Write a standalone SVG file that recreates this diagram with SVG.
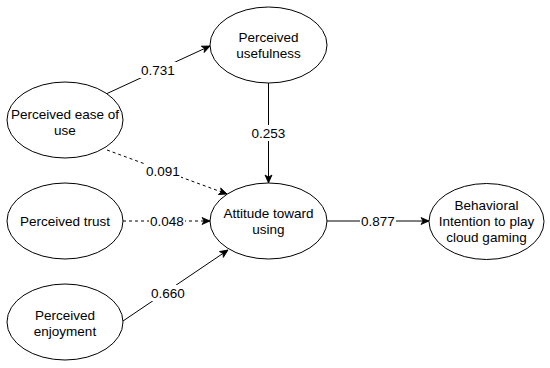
<svg xmlns="http://www.w3.org/2000/svg" width="550" height="368" viewBox="0 0 550 368">
<defs>
<style>
.node ellipse{fill:#fff;stroke:#000;stroke-width:1}
.node text,.lbl{font-family:"Liberation Sans",Arial,Helvetica,sans-serif;font-size:13.5px;fill:#000;text-anchor:middle;dominant-baseline:central}
.edge{stroke:#000;stroke-width:1;fill:none;marker-end:url(#arr)}
.dash{stroke-dasharray:3,3}
.bg{fill:#fff}
</style>
<marker id="arr" markerUnits="userSpaceOnUse" markerWidth="10" markerHeight="10" viewBox="0 0 10 10" refX="9" refY="5" orient="auto">
<path d="M1,1.5 L9,5 L1,8.5 L3,5 z" fill="#000" stroke="#000" stroke-width="0.8"/>
</marker>
</defs>
<rect width="550" height="368" fill="#fff"/>
<g id="connectors">
<line class="edge" x1="106" y1="94" x2="210" y2="46"/>
<line class="edge" x1="268.5" y1="83" x2="268.5" y2="183"/>
<line class="edge dash" x1="107" y1="150" x2="227" y2="194"/>
<line class="edge dash" x1="123" y1="221" x2="210" y2="221"/>
<line class="edge" x1="123" y1="321" x2="228" y2="250"/>
<line class="edge" x1="327" y1="221" x2="429" y2="221"/>
<rect class="bg" x="140" y="62" width="36" height="16"/>
<text class="lbl" x="158" y="70">0.731</text>
<rect class="bg" x="250" y="125" width="37" height="16"/>
<text class="lbl" x="268.5" y="133">0.253</text>
<rect class="bg" x="145" y="163" width="36" height="16"/>
<text class="lbl" x="163" y="171.5">0.091</text>
<rect class="bg" x="149" y="213" width="36" height="16"/>
<text class="lbl" x="167" y="221">0.048</text>
<rect class="bg" x="150" y="285" width="36" height="16"/>
<text class="lbl" x="168" y="293">0.660</text>
<rect class="bg" x="360" y="213" width="36" height="16"/>
<text class="lbl" x="378" y="221.5">0.877</text>
</g>
<g id="perceived-usefulness" class="node">
<ellipse cx="268.5" cy="45" rx="58.5" ry="38"/>
<text x="268.5" y="37.5">Perceived</text>
<text x="268.5" y="53">usefulness</text>
</g>
<g id="perceived-ease-of-use" class="node">
<ellipse cx="65" cy="120" rx="58" ry="38"/>
<text x="65" y="114.5">Perceived ease of</text>
<text x="65" y="130">use</text>
</g>
<g id="perceived-trust" class="node">
<ellipse cx="65" cy="221" rx="58" ry="38"/>
<text x="65" y="221.5">Perceived trust</text>
</g>
<g id="perceived-enjoyment" class="node">
<ellipse cx="65" cy="322" rx="58" ry="38"/>
<text x="65" y="315">Perceived</text>
<text x="65" y="331">enjoyment</text>
</g>
<g id="attitude-toward-using" class="node">
<ellipse cx="268.5" cy="221" rx="58.5" ry="38"/>
<text x="268.5" y="213.5">Attitude toward</text>
<text x="268.5" y="229.5">using</text>
</g>
<g id="behavioral-intention" class="node">
<ellipse cx="486.5" cy="221.5" rx="57.5" ry="38"/>
<text x="486.5" y="205.5">Behavioral</text>
<text x="486.5" y="221.5">Intention to play</text>
<text x="486.5" y="237.5">cloud gaming</text>
</g>
</svg>
